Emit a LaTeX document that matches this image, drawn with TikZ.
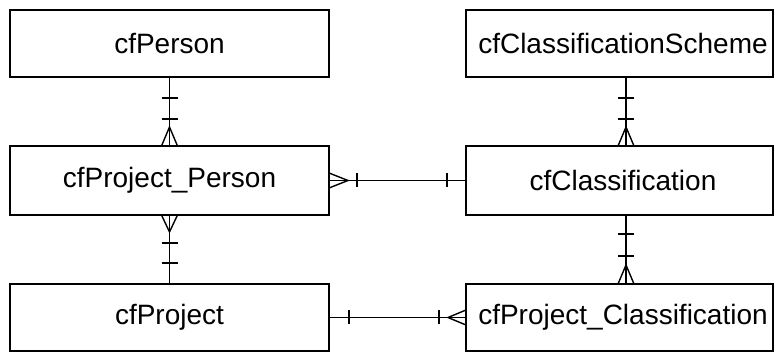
\documentclass[tikz,border=0pt]{standalone}
\usepackage{fontspec}
\setmainfont{Liberation Sans}
\begin{document}
\begin{tikzpicture}[x=1pt,y=-1pt,
  entity/.style={draw=black, line width=1.6pt, fill=white, inner sep=0pt, outer sep=0pt,
     font=\fontsize{28}{30}\selectfont},
  leftbox/.style={entity, minimum width=319pt},
  rightbox/.style={entity, minimum width=307pt},
  conn/.style={draw=black, line width=1.4pt}]
\useasboundingbox (0,0) rectangle (774,352);
% entities
\node[leftbox, minimum height=67pt] (person) at (169.5,43.5) {cfPerson};
\node[leftbox, minimum height=69pt] (pp) at (169.5,180.5) {cfProject\_Person};
\node[leftbox, minimum height=67pt] (project) at (169.5,317.5) {cfProject};
\node[rightbox, minimum height=67pt] (scheme) at (619.5,43.5) {\hspace*{7pt}cfClassificationScheme};
\node[rightbox, minimum height=69pt] (cls) at (619.5,180.5) {\hspace*{7pt}cfClassification};
\node[rightbox, minimum height=67pt] (pcls) at (619.5,317.5) {\hspace*{7pt}cfProject\_Classification};
% cfPerson -- cfProject_Person
\draw[conn] (person.south) -- (pp.north);
\draw[conn] (161.5,98) -- (177.5,98) (161.5,119) -- (177.5,119);
\draw[conn] (161.5,146) -- (169.5,127) -- (177.5,146);
% cfProject_Person -- cfProject
\draw[conn] (pp.south) -- (project.north);
\draw[conn] (161.5,215) -- (169.5,232) -- (177.5,215);
\draw[conn] (161.5,243) -- (177.5,243) (161.5,263) -- (177.5,263);
% cfProject_Person -- cfClassification
\draw[conn] (pp.east) -- (cls.west);
\draw[conn] (329,173) -- (348,180.5) -- (329,188);
\draw[conn] (357,173.5) -- (357,187.5) (447,173.5) -- (447,187.5);
% cfProject -- cfProject_Classification
\draw[conn] (project.east) -- (pcls.west);
\draw[conn] (349,310.5) -- (349,324.5) (439,310.5) -- (439,324.5);
\draw[conn] (466,310) -- (448,317.5) -- (466,325);
% cfClassificationScheme -- cfClassification
\draw[conn] ([xshift=6.5pt]scheme.south) -- ([xshift=6.5pt]cls.north);
\draw[conn] (618,98) -- (634,98) (618,119) -- (634,119);
\draw[conn] (618,146) -- (626,127) -- (634,146);
% cfClassification -- cfProject_Classification
\draw[conn] ([xshift=6.5pt]cls.south) -- ([xshift=6.5pt]pcls.north);
\draw[conn] (618,234) -- (634,234) (618,256) -- (634,256);
\draw[conn] (618,284) -- (626,265) -- (634,284);
\end{tikzpicture}
\end{document}
